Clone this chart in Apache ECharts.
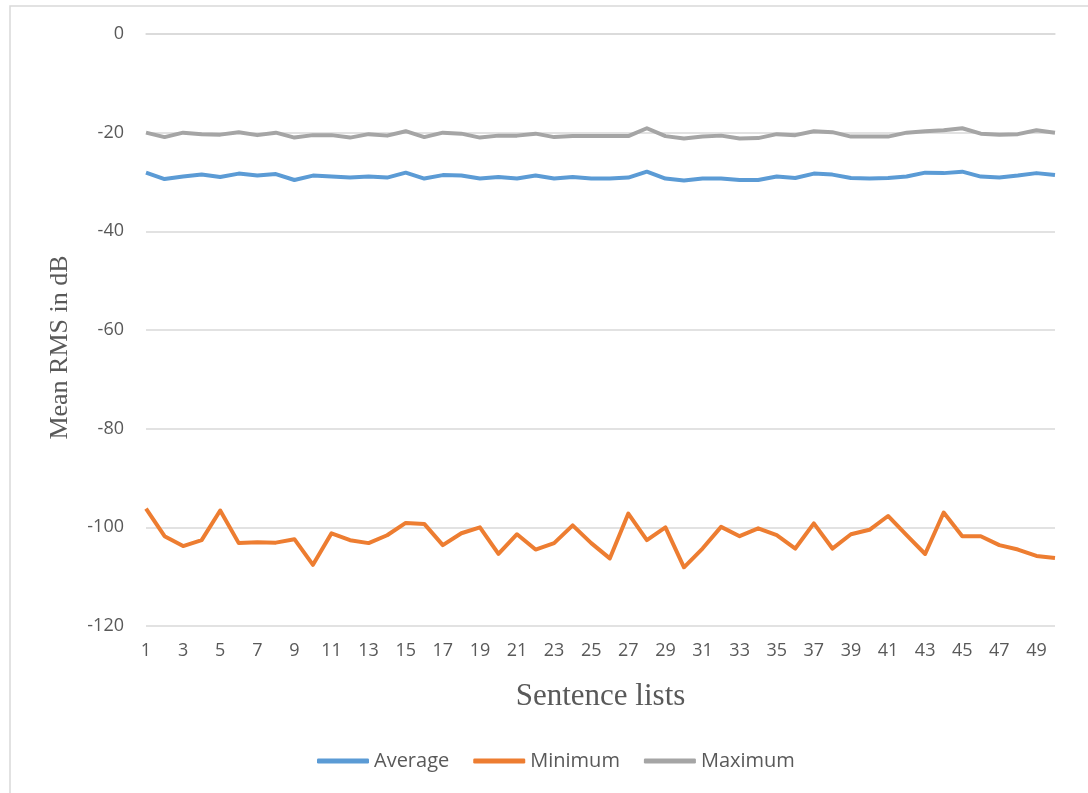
<!DOCTYPE html>
<html>
<head>
<meta charset="utf-8">
<script src="https://cdn.jsdelivr.net/npm/echarts@6/dist/echarts.min.js"></script>
<style>
  html, body { margin: 0; padding: 0; background: #fff; }
  #chart { width: 1088px; height: 793px; }
</style>
</head>
<body>
<div id="chart"></div>
<script>
// sentence lists 1..50
var categories = [];
for (var i = 1; i <= 50; i++) categories.push(String(i));

var averageValues = [
  -28.1, -29.4, -28.9, -28.5, -29.0, -28.3, -28.7, -28.4, -29.6, -28.7,
  -28.9, -29.1, -28.9, -29.1, -28.1, -29.3, -28.6, -28.7, -29.3, -29.0,
  -29.3, -28.7, -29.3, -29.0, -29.3, -29.3, -29.1, -27.9, -29.3, -29.7,
  -29.3, -29.3, -29.6, -29.6, -28.9, -29.2, -28.3, -28.5, -29.2, -29.3,
  -29.2, -28.9, -28.1, -28.2, -27.9, -28.9, -29.1, -28.7, -28.2, -28.6
];
var minimumValues = [
  -96.2, -101.8, -103.8, -102.6, -96.6, -103.2, -103.0, -103.1, -102.4, -107.6,
  -101.2, -102.6, -103.2, -101.6, -99.1, -99.3, -103.6, -101.2, -100.0, -105.4,
  -101.4, -104.5, -103.2, -99.6, -103.2, -106.3, -97.2, -102.6, -100.0, -108.1,
  -104.3, -99.9, -101.8, -100.2, -101.6, -104.3, -99.2, -104.3, -101.4, -100.5,
  -97.7, -101.6, -105.4, -97.0, -101.8, -101.8, -103.6, -104.5, -105.8, -106.2
];
var maximumValues = [
  -20.0, -20.9, -20.0, -20.3, -20.4, -19.9, -20.5, -20.0, -21.0, -20.5,
  -20.5, -21.0, -20.3, -20.6, -19.7, -20.9, -20.0, -20.2, -21.0, -20.6,
  -20.6, -20.2, -20.9, -20.7, -20.7, -20.7, -20.7, -19.1, -20.7, -21.2,
  -20.8, -20.6, -21.2, -21.1, -20.3, -20.5, -19.7, -19.9, -20.8, -20.8,
  -20.8, -20.0, -19.7, -19.5, -19.1, -20.2, -20.4, -20.3, -19.5, -20.0
];
var seriesNames = ["Average", "Minimum", "Maximum"];

var chart = echarts.init(document.getElementById("chart"));

var textColor = "#595959";
var option = {
  backgroundColor: "#fff",
  animation: false,
  graphic: [
    {
      type: "rect",
      shape: { x: 10, y: 6, width: 1100, height: 810 },
      style: { fill: "none", stroke: "#d9d9d9", lineWidth: 1.5 },
      silent: true
    }
  ],
  grid: {
    left: 146,
    right: 33,
    top: 34,
    bottom: 167
  },
  legend: {
    bottom: 17,
    left: 312,
    icon: "roundRect",
    itemWidth: 52,
    itemHeight: 5,
    itemGap: 24,
    textStyle: {
      color: textColor,
      fontFamily: "Open Sans",
      fontSize: 20
    },
    data: seriesNames
  },
  xAxis: {
    type: "category",
    boundaryGap: false,
    data: categories,
    name: "Sentence lists",
    nameLocation: "middle",
    nameGap: 55,
    nameTextStyle: {
      fontFamily: "Liberation Serif",
      fontSize: 31,
      color: textColor
    },
    axisLine: { show: true, lineStyle: { color: "#d9d9d9", width: 1.5 } },
    axisTick: { show: false },
    axisLabel: {
      interval: 1,
      margin: 16,
      color: textColor,
      fontFamily: "Open Sans",
      fontSize: 18
    }
  },
  yAxis: {
    type: "value",
    min: -120,
    max: 0,
    interval: 20,
    name: "Mean RMS in dB",
    nameLocation: "middle",
    nameGap: 73,
    nameTextStyle: {
      fontFamily: "Liberation Serif",
      fontSize: 26,
      color: textColor,
      padding: [0, 35, 0, 0]
    },
    axisLine: { show: false },
    axisTick: { show: false },
    axisLabel: {
      margin: 22,
      color: textColor,
      fontFamily: "Open Sans",
      fontSize: 18
    },
    splitLine: { lineStyle: { color: "#d9d9d9", width: 1.5 } }
  },
  series: [
    {
      name: seriesNames[0],
      type: "line",
      data: averageValues,
      symbol: "none",
      lineStyle: { width: 4, color: "#5b9bd5", join: "round" },
      itemStyle: { color: "#5b9bd5" }
    },
    {
      name: seriesNames[1],
      type: "line",
      data: minimumValues,
      symbol: "none",
      lineStyle: { width: 4, color: "#ed7d31", join: "round" },
      itemStyle: { color: "#ed7d31" }
    },
    {
      name: seriesNames[2],
      type: "line",
      data: maximumValues,
      symbol: "none",
      lineStyle: { width: 4, color: "#a5a5a5", join: "round" },
      itemStyle: { color: "#a5a5a5" }
    }
  ]
};

chart.setOption(option);
</script>
</body>
</html>
